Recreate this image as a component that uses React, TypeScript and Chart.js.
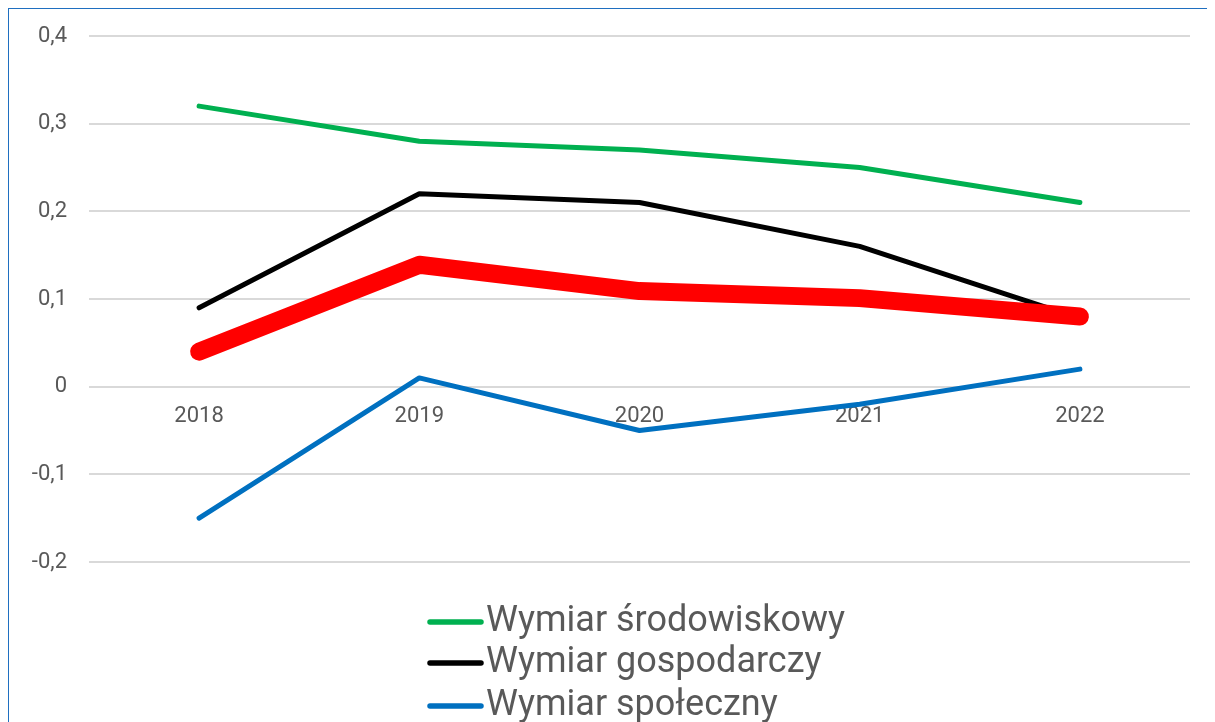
import React, { useEffect, useRef } from "react";
import { Chart, registerables } from "chart.js";

Chart.register(...registerables);

const years = ["2018", "2019", "2020", "2021", "2022"];
const srodowiskowy = [0.32, 0.28, 0.27, 0.25, 0.21];
const gospodarczy = [0.09, 0.22, 0.21, 0.16, 0.078];
const spoleczny = [-0.15, 0.01, -0.05, -0.02, 0.02];
const ogolny = [0.04, 0.139, 0.109, 0.101, 0.08];
const yTicks = [-0.2, -0.1, 0, 0.1, 0.2, 0.3, 0.4];

const legendNames = ["Wymiar środowiskowy", "Wymiar gospodarczy", "Wymiar społeczny"];
const legendColors = ["#00B050", "#000000", "#0070C0"];

const FONT = "Roboto, 'Noto Sans', sans-serif";
const TEXT = "#595959";

const customLegend = {
  id: "customLegend",
  afterDraw(chart: any) {
    const ctx = chart.ctx;
    ctx.save();
    const rowY = [613, 654, 697];
    legendNames.forEach((name, i) => {
      const y = rowY[i];
      ctx.strokeStyle = legendColors[i];
      ctx.lineWidth = 5.5;
      ctx.lineCap = "round";
      ctx.beginPath();
      ctx.moveTo(421, y);
      ctx.lineTo(472, y);
      ctx.stroke();
      ctx.fillStyle = TEXT;
      ctx.font = `36px ${FONT}`;
      ctx.textBaseline = "middle";
      ctx.textAlign = "left";
      ctx.fillText(name, 477, y);
    });
    ctx.restore();
  },
};

export default function App() {
  const ref = useRef<HTMLCanvasElement | null>(null);
  useEffect(() => {
    document.documentElement.style.overflow = "hidden";
    const canvas = ref.current!;
    const chart = new Chart(canvas, {
      type: "line",
      data: {
        labels: years,
        datasets: [
          {
            label: "Ogółem",
            data: ogolny,
            borderColor: "#FF0000",
            backgroundColor: "#FF0000",
            borderWidth: 18,
            order: 0,
          },
          {
            label: legendNames[0],
            data: srodowiskowy,
            borderColor: legendColors[0],
            backgroundColor: legendColors[0],
            borderWidth: 5,
            order: 1,
          },
          {
            label: legendNames[1],
            data: gospodarczy,
            borderColor: legendColors[1],
            backgroundColor: legendColors[1],
            borderWidth: 5,
            order: 2,
          },
          {
            label: legendNames[2],
            data: spoleczny,
            borderColor: legendColors[2],
            backgroundColor: legendColors[2],
            borderWidth: 5,
            order: 3,
          },
        ],
      },
      options: {
        responsive: false,
        animation: false,
        devicePixelRatio: 1,
        datasets: {
          line: {
            pointRadius: 0,
            pointHoverRadius: 0,
            borderCapStyle: "round",
            borderJoinStyle: "round",
            tension: 0,
          },
        },
        layout: { padding: { left: 0, top: 27, right: 25, bottom: 207 } },
        plugins: {
          legend: { display: false },
          tooltip: { enabled: false },
          title: { display: false },
        },
        scales: {
          x: {
            type: "category",
            offset: true,
            position: { y: 0 } as any,
            grid: { display: false, drawTicks: false },
            border: { display: false },
            ticks: {
              color: TEXT,
              font: { family: FONT, size: 22 },
              padding: 17,
              maxRotation: 0,
            },
          },
          y: {
            min: -0.2,
            max: 0.4,
            afterBuildTicks(scale: any) {
              scale.ticks = yTicks.map((v) => ({ value: v }));
            },
            afterFit(scale: any) {
              scale.width = 80;
              scale.paddingTop = 0;
              scale.paddingBottom = 0;
            },
            grid: {
              color: "#D9D9D9",
              lineWidth: 2,
              drawTicks: false,
            },
            border: { display: false },
            ticks: {
              color: TEXT,
              font: { family: FONT, size: 22 },
              padding: 22,
              callback: (v: any) =>
                Math.abs(Number(v)) < 1e-9 ? "0" : Number(v).toFixed(1).replace(".", ","),
            },
          },
        },
      },
      plugins: [customLegend],
    });
    return () => chart.destroy();
  }, []);

  return (
    <div
      style={{
        position: "relative",
        top: -1,
        left: -1,
        width: 1206,
        height: 713,
        borderTop: "2px solid #1F6FC0",
        borderLeft: "2px solid #1F6FC0",
        overflow: "hidden",
        background: "#ffffff",
      }}
    >
      <canvas
        ref={ref}
        width={1206}
        height={760}
        style={{ display: "block", width: 1206, height: 760 }}
      />
    </div>
  );
}
